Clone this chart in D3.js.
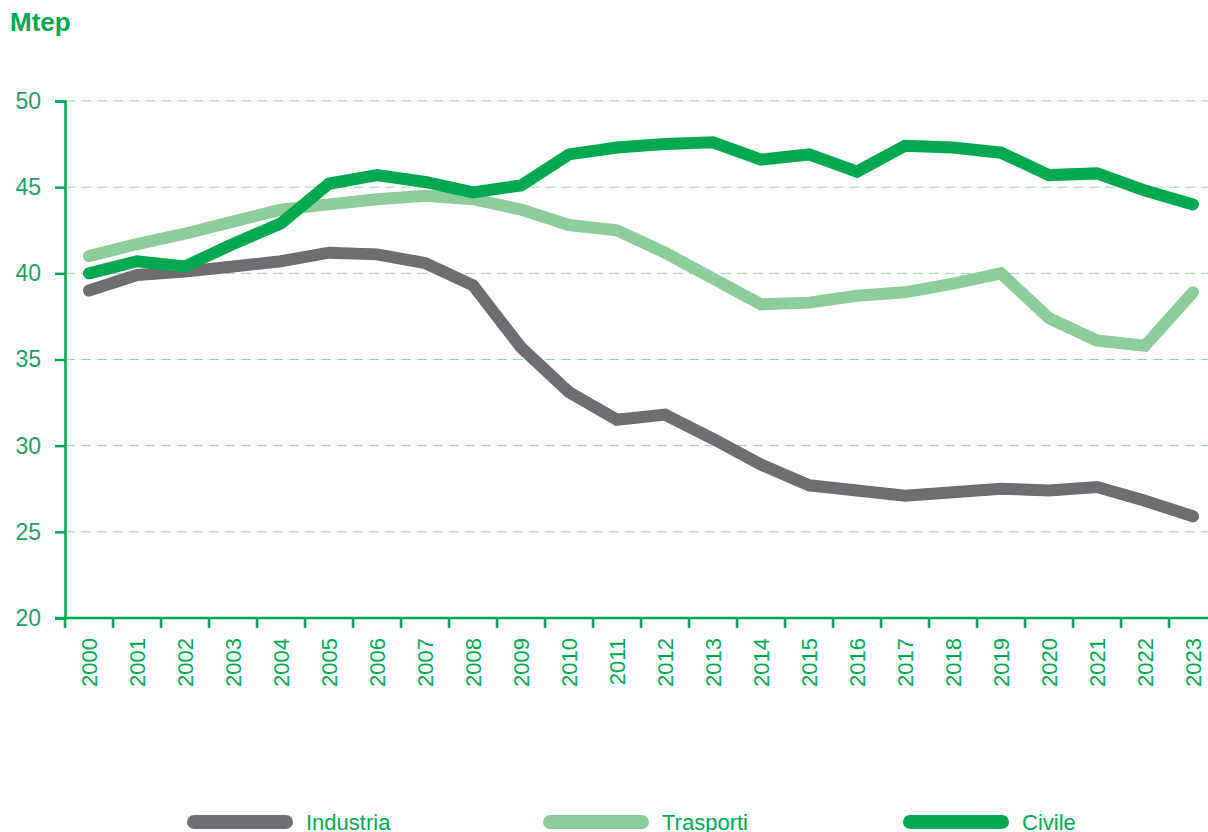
<!DOCTYPE html>
<html>
<head>
<meta charset="utf-8" />
<style>
body { margin: 0; background-color: #fff; }
#chart { width: 1208px; height: 832px; }
text { font-family: "Liberation Sans", Arial, sans-serif; }
</style>
<title>Mtep</title>
</head>
<body>
<div id="chart"></div>
<script src="https://d3js.org/d3.v7.min.js"></script>
<script>

var years = d3.range(2000, 2024);
var industria = [39.0, 39.9, 40.1, 40.4, 40.7, 41.2, 41.1, 40.6, 39.3, 35.7, 33.1, 31.5,
                 31.8, 30.4, 28.9, 27.7, 27.4, 27.1, 27.3, 27.5, 27.4, 27.6, 26.8, 25.9];
var trasporti = [41.0, 41.7, 42.3, 43.0, 43.7, 44.0, 44.3, 44.5, 44.3, 43.7, 42.8, 42.5,
                 41.2, 39.7, 38.2, 38.3, 38.7, 38.9, 39.4, 40.0, 37.4, 36.1, 35.8, 38.9];
var civile = [40.0, 40.7, 40.4, 41.7, 42.9, 45.2, 45.7, 45.3, 44.7, 45.1, 46.9, 47.3,
              47.5, 47.6, 46.6, 46.9, 45.9, 47.4, 47.3, 47.0, 45.7, 45.8, 44.8, 44.0];
var yTicks = [20, 25, 30, 35, 40, 45, 50];
var seriesNames = ["Industria", "Trasporti", "Civile"];
var seriesColors = ["#6d6e71", "#8dcc9b", "#00a84f"];

var series = [industria, trasporti, civile];
var green = "#00a84f";

var svg = d3.select("#chart").append("svg")
    .attr("width", 1208)
    .attr("height", 832);

var x = d3.scaleBand().domain(years).range([65, 1217]);
var y = d3.scaleLinear().domain([20, 50]).range([618, 101]);

// title
svg.append("text")
    .attr("x", 10).attr("y", 31)
    .attr("font-size", 26).attr("font-weight", "bold")
    .attr("fill", green)
    .text("Mtep");

// grid
svg.selectAll(".grid").data(yTicks.slice(1)).enter()
    .append("line")
    .attr("x1", 65).attr("x2", 1208)
    .attr("y1", function(d) { return y(d); })
    .attr("y2", function(d) { return y(d); })
    .attr("stroke", "#9bd3aa").attr("stroke-width", 1)
    .attr("stroke-dasharray", "10,6");

// y axis
var yAxis = svg.append("g")
    .attr("transform", "translate(65,0)")
    .call(d3.axisLeft(y).tickValues(yTicks).tickSize(10).tickPadding(14));
yAxis.selectAll("line, path").attr("stroke", green).attr("stroke-width", 2.5);
yAxis.selectAll("text").attr("font-size", 23).attr("fill", "#1f9d68")
    .attr("font-family", "Liberation Sans, Arial, sans-serif");

// x axis
var xAxis = svg.append("g")
    .attr("transform", "translate(0,618)");
xAxis.append("line")
    .attr("x1", 55).attr("x2", 1208).attr("y1", 0).attr("y2", 0)
    .attr("stroke", green).attr("stroke-width", 2.5);
xAxis.selectAll(".tk").data(years).enter()
    .append("line")
    .attr("x1", function(d) { return x(d); })
    .attr("x2", function(d) { return x(d); })
    .attr("y1", 0).attr("y2", 10)
    .attr("stroke", green).attr("stroke-width", 2.5);
xAxis.selectAll(".lbl").data(years).enter()
    .append("text")
    .attr("transform", function(d) {
        return "translate(" + (x(d) + x.bandwidth() / 2 + 8) + ",20) rotate(-90)";
    })
    .attr("text-anchor", "end")
    .attr("font-size", 22).attr("fill", green)
    .text(function(d) { return d; });

// lines
var line = d3.line()
    .x(function(d, i) { return x(years[i]) + x.bandwidth() / 2; })
    .y(function(d) { return y(d); });

svg.selectAll(".series").data(series).enter()
    .append("path")
    .attr("d", line)
    .attr("fill", "none")
    .attr("stroke", function(d, i) { return seriesColors[i]; })
    .attr("stroke-width", 12)
    .attr("stroke-linecap", "round")
    .attr("stroke-linejoin", "miter");

// legend
var legendX = [187, 543, 903];
var legend = svg.selectAll(".legend").data(seriesNames).enter()
    .append("g")
    .attr("transform", function(d, i) { return "translate(" + legendX[i] + ",822)"; });
legend.append("line")
    .attr("x1", 7).attr("x2", 99).attr("y1", 0).attr("y2", 0)
    .attr("stroke", function(d, i) { return seriesColors[i]; })
    .attr("stroke-width", 14).attr("stroke-linecap", "round");
legend.append("text")
    .attr("x", 119).attr("y", 8)
    .attr("font-size", 22).attr("fill", green)
    .text(function(d) { return d; });

</script>
</body>
</html>
